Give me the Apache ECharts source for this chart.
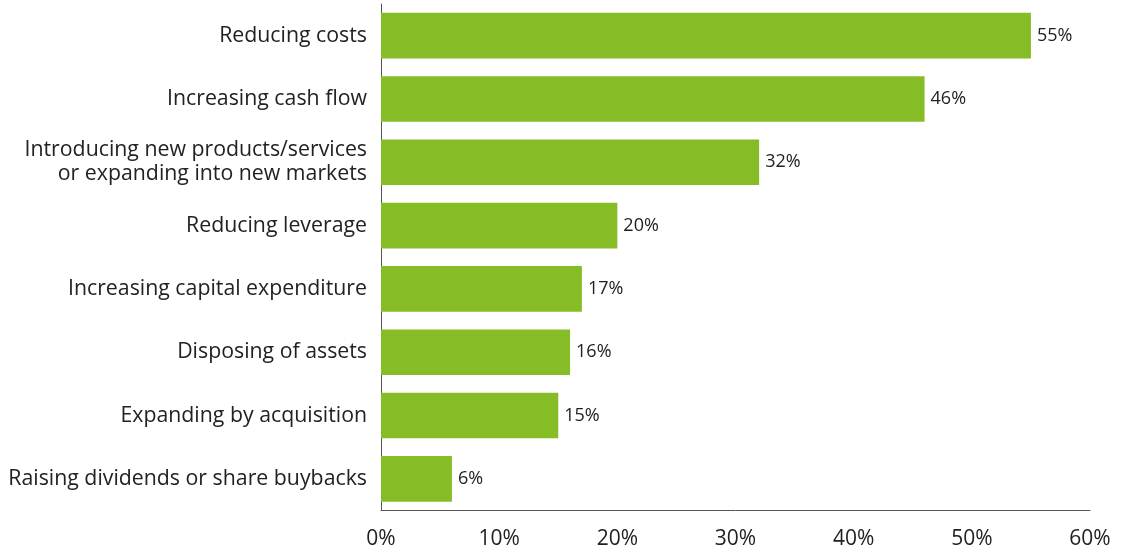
<!DOCTYPE html>
<html>
<head>
<meta charset="utf-8">
<script src="https://cdn.jsdelivr.net/npm/echarts@6/dist/echarts.min.js"></script>
<style>
  html, body { margin: 0; padding: 0; background: #fff; }
  #chart { width: 1123px; height: 552px; }
</style>
</head>
<body>
<div id="chart"></div>
<script>
// Survey priorities, listed top to bottom
const categories = [
  'Reducing costs',
  'Increasing cash flow',
  'Introducing new products/services\nor expanding into new markets',
  'Reducing leverage',
  'Increasing capital expenditure',
  'Disposing of assets',
  'Expanding by acquisition',
  'Raising dividends or share buybacks'
];
const shares = [55, 46, 32, 20, 17, 16, 15, 6];
const xTicks = [0, 10, 20, 30, 40, 50, 60];

const chart = echarts.init(document.getElementById('chart'));
const font = '"Open Sans", "Noto Sans", sans-serif';

chart.setOption({
  animation: false,
  grid: { left: 381, right: 33, top: 4, bottom: 41.5, containLabel: false },
  xAxis: {
    type: 'value',
    min: xTicks[0],
    max: xTicks[xTicks.length - 1],
    interval: 10,
    axisLine: { show: true, lineStyle: { color: '#555', width: 1 } },
    axisTick: { show: false },
    splitLine: { show: false },
    axisLabel: {
      formatter: v => v + '%',
      color: '#222',
      fontFamily: font,
      fontSize: 21,
      margin: 18
    }
  },
  yAxis: {
    type: 'category',
    data: categories,
    inverse: true,
    axisLine: { show: true, lineStyle: { color: '#555', width: 1 } },
    axisTick: { show: false },
    axisLabel: {
      color: '#222',
      fontFamily: font,
      fontSize: 21.3,
      lineHeight: 24,
      margin: 14,
      padding: [3, 0, 0, 0],
      align: 'right'
    }
  },
  series: [{
    type: 'bar',
    data: shares,
    barCategoryGap: '28%',
    itemStyle: { color: '#86BC25' },
    label: {
      show: true,
      position: 'right',
      distance: 6,
      formatter: p => p.value + '%',
      color: '#222',
      fontFamily: font,
      fontSize: 18
    }
  }]
});
</script>
</body>
</html>
